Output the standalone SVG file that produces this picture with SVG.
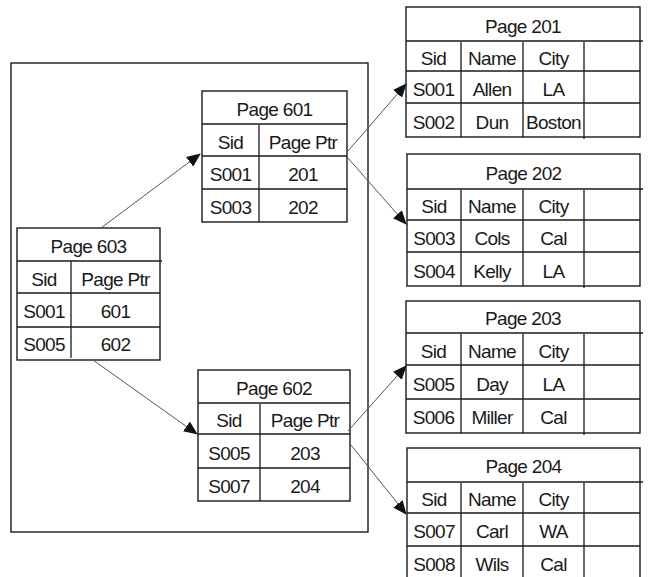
<svg xmlns="http://www.w3.org/2000/svg" width="648" height="577" viewBox="0 0 648 577">
  <style>
    .box { fill: none; stroke: #1a1a1a; stroke-width: 1.4; }
    .grid { stroke: #1a1a1a; stroke-width: 1.3; }
    .t { font-family: "Liberation Sans", Arial, sans-serif; font-size: 19px; letter-spacing: -0.7px; fill: #1a1a1a; text-anchor: middle; }
    .link { stroke: #555; stroke-width: 1; fill: none; marker-end: url(#head); }
  </style>
  <defs>
    <marker id="head" markerUnits="userSpaceOnUse" markerWidth="14" markerHeight="12" viewBox="0 0 14 12" refX="13" refY="6" orient="auto">
      <path d="M0,0 L14,6 L0,12 Z" fill="#111"/>
    </marker>
  </defs>

  <rect id="frame" class="box" x="11" y="63" width="357" height="469"/>

  <!-- index page 603 -->
  <g id="page603">
    <rect class="box" x="17" y="228" width="143" height="132"/>
    <line class="grid" x1="17" y1="261" x2="162" y2="261"/>
    <line class="grid" x1="17" y1="293" x2="160" y2="293"/>
    <line class="grid" x1="17" y1="327" x2="160" y2="327"/>
    <line class="grid" x1="71" y1="261" x2="71" y2="358"/>
    <text class="t" x="88.5" y="253">Page 603</text>
    <text class="t" x="44" y="285.5">Sid</text>
    <text class="t" x="115.5" y="285.5">Page Ptr</text>
    <text class="t" x="44" y="318">S001</text>
    <text class="t" x="115.5" y="318">601</text>
    <text class="t" x="44" y="351">S005</text>
    <text class="t" x="115.5" y="351">602</text>
  </g>

  <!-- index page 601 -->
  <g id="page601">
    <rect class="box" x="202" y="91" width="145" height="131"/>
    <line class="grid" x1="202" y1="124" x2="347" y2="124"/>
    <line class="grid" x1="202" y1="156" x2="347" y2="156"/>
    <line class="grid" x1="202" y1="189" x2="347" y2="189"/>
    <line class="grid" x1="259" y1="125" x2="259" y2="222"/>
    <text class="t" x="274.5" y="116">Page 601</text>
    <text class="t" x="230.5" y="148.5">Sid</text>
    <text class="t" x="303" y="148.5">Page Ptr</text>
    <text class="t" x="230.5" y="180.5">S001</text>
    <text class="t" x="303" y="180.5">201</text>
    <text class="t" x="230.5" y="213.5">S003</text>
    <text class="t" x="303" y="213.5">202</text>
  </g>

  <!-- index page 602 -->
  <g id="page602">
    <rect class="box" x="198" y="370" width="152" height="131"/>
    <line class="grid" x1="198" y1="403" x2="350" y2="403"/>
    <line class="grid" x1="198" y1="434" x2="350" y2="434"/>
    <line class="grid" x1="198" y1="468" x2="350" y2="468"/>
    <line class="grid" x1="260" y1="404" x2="260" y2="501"/>
    <text class="t" x="274" y="395">Page 602</text>
    <text class="t" x="229" y="426.5">Sid</text>
    <text class="t" x="305" y="426.5">Page Ptr</text>
    <text class="t" x="229" y="459.5">S005</text>
    <text class="t" x="305" y="459.5">203</text>
    <text class="t" x="229" y="492.5">S007</text>
    <text class="t" x="305" y="492.5">204</text>
  </g>

  <!-- data page 201 -->
  <g id="page201">
    <rect class="box" x="406" y="7" width="234" height="130"/>
    <line class="grid" x1="406" y1="41" x2="643" y2="41"/>
    <line class="grid" x1="406" y1="71" x2="640" y2="71"/>
    <line class="grid" x1="406" y1="103" x2="640" y2="103"/>
    <line class="grid" x1="461" y1="42" x2="461" y2="137"/>
    <line class="grid" x1="523" y1="42" x2="523" y2="137"/>
    <line class="grid" x1="584" y1="42" x2="584" y2="139"/>
    <text class="t" x="523" y="33">Page 201</text>
    <text class="t" x="433.5" y="64.5">Sid</text>
    <text class="t" x="492" y="64.5">Name</text>
    <text class="t" x="553.5" y="64.5">City</text>
    <text class="t" x="433.5" y="96">S001</text>
    <text class="t" x="492" y="96">Allen</text>
    <text class="t" x="553.5" y="96">LA</text>
    <text class="t" x="433.5" y="128.5">S002</text>
    <text class="t" x="492" y="128.5">Dun</text>
    <text class="t" x="553.5" y="128.5">Boston</text>
  </g>

  <!-- data page 202 -->
  <g id="page202">
    <rect class="box" x="407" y="154" width="233" height="132"/>
    <line class="grid" x1="407" y1="189" x2="643" y2="189"/>
    <line class="grid" x1="407" y1="220" x2="640" y2="220"/>
    <line class="grid" x1="407" y1="252" x2="640" y2="252"/>
    <line class="grid" x1="461" y1="190" x2="461" y2="286"/>
    <line class="grid" x1="523" y1="190" x2="523" y2="286"/>
    <line class="grid" x1="584" y1="190" x2="584" y2="288"/>
    <text class="t" x="523.5" y="180">Page 202</text>
    <text class="t" x="434" y="212.5">Sid</text>
    <text class="t" x="492" y="212.5">Name</text>
    <text class="t" x="553.5" y="212.5">City</text>
    <text class="t" x="434" y="244.5">S003</text>
    <text class="t" x="492" y="244.5">Cols</text>
    <text class="t" x="553.5" y="244.5">Cal</text>
    <text class="t" x="434" y="277.5">S004</text>
    <text class="t" x="492" y="277.5">Kelly</text>
    <text class="t" x="553.5" y="277.5">LA</text>
  </g>

  <!-- data page 203 -->
  <g id="page203">
    <rect class="box" x="406" y="301" width="234" height="132"/>
    <line class="grid" x1="406" y1="333" x2="643" y2="333"/>
    <line class="grid" x1="406" y1="365" x2="640" y2="365"/>
    <line class="grid" x1="406" y1="399" x2="640" y2="399"/>
    <line class="grid" x1="461" y1="334" x2="461" y2="433"/>
    <line class="grid" x1="523" y1="334" x2="523" y2="433"/>
    <line class="grid" x1="584" y1="334" x2="584" y2="435"/>
    <text class="t" x="523" y="325">Page 203</text>
    <text class="t" x="433.5" y="357.5">Sid</text>
    <text class="t" x="492" y="357.5">Name</text>
    <text class="t" x="553.5" y="357.5">City</text>
    <text class="t" x="433.5" y="390.5">S005</text>
    <text class="t" x="492" y="390.5">Day</text>
    <text class="t" x="553.5" y="390.5">LA</text>
    <text class="t" x="433.5" y="423.5">S006</text>
    <text class="t" x="492" y="423.5">Miller</text>
    <text class="t" x="553.5" y="423.5">Cal</text>
  </g>

  <!-- data page 204 (runs off the lower edge) -->
  <g id="page204">
    <rect class="box" x="407" y="448" width="233" height="140"/>
    <line class="grid" x1="407" y1="482" x2="643" y2="482"/>
    <line class="grid" x1="407" y1="513" x2="640" y2="513"/>
    <line class="grid" x1="407" y1="546" x2="640" y2="546"/>
    <line class="grid" x1="461" y1="483" x2="461" y2="588"/>
    <line class="grid" x1="523" y1="483" x2="523" y2="588"/>
    <line class="grid" x1="584" y1="483" x2="584" y2="588"/>
    <text class="t" x="523.5" y="473">Page 204</text>
    <text class="t" x="434" y="505.5">Sid</text>
    <text class="t" x="492" y="505.5">Name</text>
    <text class="t" x="553.5" y="505.5">City</text>
    <text class="t" x="434" y="537.5">S007</text>
    <text class="t" x="492" y="537.5">Carl</text>
    <text class="t" x="553.5" y="537.5">WA</text>
    <text class="t" x="434" y="570.5">S008</text>
    <text class="t" x="492" y="570.5">Wils</text>
    <text class="t" x="553.5" y="570.5">Cal</text>
  </g>

  <!-- pointers between pages -->
  <g id="connectors">
    <line class="link" x1="101" y1="228" x2="200" y2="154"/>
    <line class="link" x1="93" y1="360" x2="197" y2="434"/>
    <line class="link" x1="348" y1="151" x2="406" y2="84"/>
    <line class="link" x1="347" y1="157" x2="406" y2="224"/>
    <line class="link" x1="348" y1="431" x2="406" y2="366"/>
    <line class="link" x1="351" y1="445" x2="406" y2="514"/>
  </g>
</svg>
